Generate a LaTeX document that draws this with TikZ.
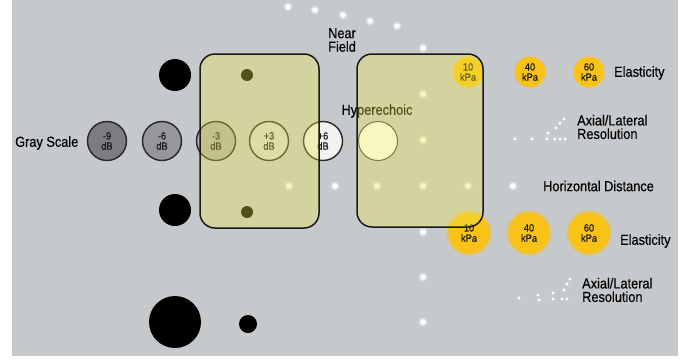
\documentclass[tikz,border=0pt]{standalone}
\usepackage{fontspec}
\setmainfont{Liberation Sans}[FakeStretch=0.88,FakeBold=0.35]
\definecolor{bg}{RGB}{198,201,204}
\definecolor{overlay}{RGB}{238,232,78}
\definecolor{gold}{RGB}{248,194,22}
\definecolor{gsA}{RGB}{124,124,129}
\definecolor{gsB}{RGB}{150,151,156}
\definecolor{gsC}{RGB}{172,172,174}
\definecolor{gsD}{RGB}{214,214,214}
\definecolor{gsE}{RGB}{242,242,242}
\tikzset{
  lbl/.style={font=\fontsize{14.5}{13.5}\selectfont, inner sep=0, align=left, anchor=west, text=black},
  ctext/.style={font=\fontsize{10.5}{10.2}\selectfont, inner sep=0, align=center, text=black!90},
  gs/.style={circle, draw=black!85, line width=1.4pt, minimum size=39pt, inner sep=0, ctext},
  kpa/.style={circle, fill=gold, minimum size=31pt, inner sep=0, ctext},
  kpabig/.style={circle, fill=gold, minimum size=40pt, inner sep=0, ctext},
  wdot/.style={circle, fill=white, minimum size=5.5pt, inner sep=0},
  rdot/.style={circle, fill=white, minimum size=3.2pt, inner sep=0},
  bdot/.style={circle, fill=black, inner sep=0},
  zone/.style={rounded corners=15pt, fill=overlay, fill opacity=0.35, draw=black!90, line width=1.5pt}
}
\begin{document}
\begin{tikzpicture}[x=1pt,y=-1pt]
\useasboundingbox (0,0) rectangle (693,362);
\fill[bg] (12,0) rectangle (678,356);
% black circles
\node[bdot, minimum size=32pt] (b1) at (175,75) {};
\node[bdot, minimum size=32pt] (b2) at (175,210) {};
\node[bdot, minimum size=52pt] (b3) at (175,322) {};
\node[bdot, minimum size=18pt] (b4) at (248,324) {};
\node[bdot, minimum size=12pt] (b5) at (247,75) {};
\node[bdot, minimum size=12pt] (b6) at (247,212) {};
% white dots with glow
\foreach \x/\y [count=\i] in {288/7,315/10,343/15,370/21,397/26,423/48,423/94,423/140,
  289/186,335/186,377/186,423/186,468/186,513/186,423/232,423/277,423/322}{
  \fill[white, opacity=0.35] (\x,\y) circle (4.5pt);
  \node[wdot] (w\i) at (\x,\y) {};
}
% resolution dots
\foreach \x/\y [count=\i] in {515/139,532/139,547/139,555/139,560/139,565/139,548/133,556/128,560/123,564/119}{
  \node[rdot] (ra\i) at (\x,\y) {};
}
\foreach \x/\y [count=\i] in {519/298,538/295,539/300,553/293,553/299,562/299,567/299,564/290,567/284,570/279}{
  \node[rdot] (rb\i) at (\x,\y) {};
}
% gray scale
\node[gs, fill=gsA] (g1) at (107,141) {-9\\dB};
\node[gs, fill=gsB] (g2) at (162,141) {-6\\dB};
\node[gs, fill=gsC] (g3) at (216,141) {-3\\dB};
\node[gs, fill=gsD] (g4) at (269,141) {+3\\dB};
\node[gs, fill=gsE] (g5) at (323,141) {+6\\dB};
% hyperechoic
\node[circle, fill=white, draw=black!75, line width=1pt, minimum size=39pt, inner sep=0] (hc) at (378,141) {};
\node[lbl, anchor=center] (hyp) at (377,111) {Hyperechoic};
% elasticity circles
\node[kpa] (k1) at (468,72) {10\\kPa};
\node[kpa] (k2) at (530,72) {40\\kPa};
\node[kpa] (k3) at (589,72) {60\\kPa};
\foreach \n/\x in {k4/469,k5/529,k6/589}{
  \fill[gold, opacity=0.3] (\x,233) circle (23pt);
  \fill[gold, opacity=0.5] (\x,233) circle (21.5pt);
}
\node[kpabig] (k4) at (469,233) {10\\kPa};
\node[kpabig] (k5) at (529,233) {40\\kPa};
\node[kpabig] (k6) at (589,233) {60\\kPa};
% labels
\node[lbl] (gray) at (15,143) {Gray Scale};
\node[lbl] (near) at (328,40) {Near\\Field};
\node[lbl] (el1) at (614,73) {Elasticity};
\node[lbl] (ax1) at (577,127) {Axial/Lateral\\Resolution};
\node[lbl] (hd) at (543,186) {Horizontal Distance};
\node[lbl] (el2) at (620,241) {Elasticity};
\node[lbl] (ax2) at (582,290) {Axial/Lateral\\Resolution};
% zones
\draw[zone] (200,54) rectangle (319,228);
\draw[zone] (357,54) rectangle (483,227);
\end{tikzpicture}
\end{document}
